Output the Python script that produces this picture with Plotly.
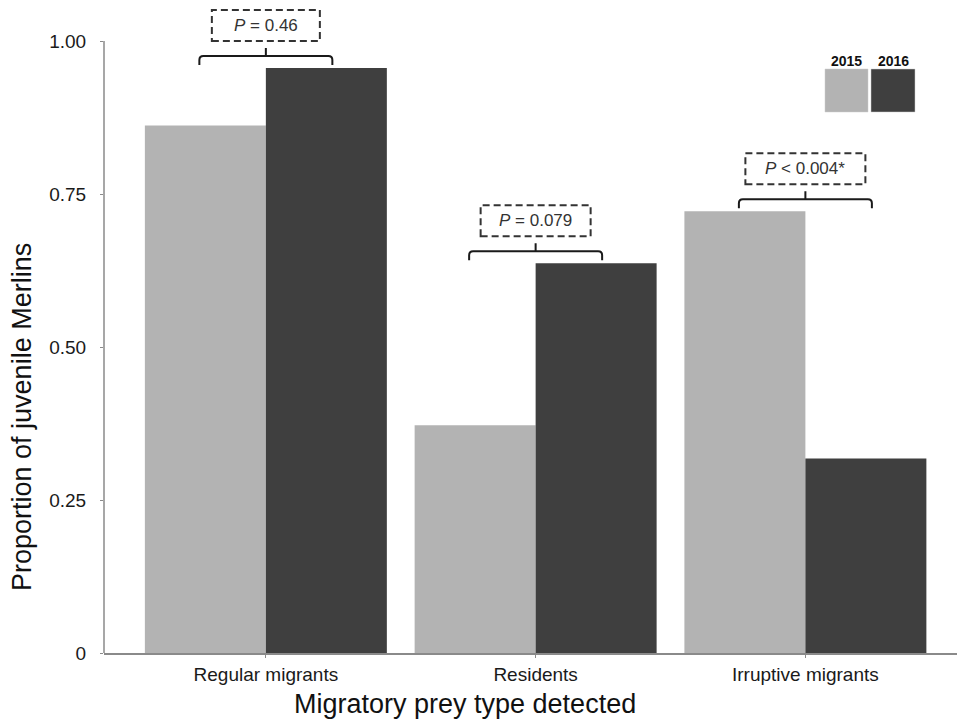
import plotly.graph_objects as go

# Proportion of juvenile Merlins by migratory prey type detected
categories = ["Regular migrants", "Residents", "Irruptive migrants"]
years = ["2015", "2016"]
prop_2015 = [0.862, 0.372, 0.722]
prop_2016 = [0.956, 0.637, 0.318]
p_labels = ["<i>P</i> = 0.46", "<i>P</i> = 0.079", "<i>P</i> < 0.004*"]
y_tickvals = [0, 0.25, 0.5, 0.75, 1.0]
y_ticktext = ["0", "0.25", "0.50", "0.75", "1.00"]

colors = {"2015": "#b3b3b3", "2016": "#3f3f3f"}
FONT = "Liberation Sans, Arial, Helvetica, sans-serif"

W, H = 957, 725
ML, MR, MT, MB = 104, 0, 0, 72
plot_w = W - ML - MR
plot_h = H - MT - MB
Y_TOP = 1.067
X_RANGE = [-0.6, 2.562]
x_per_px = (X_RANGE[1] - X_RANGE[0]) / plot_w
y_per_px = Y_TOP / plot_h


def px_to_paper(px, py):
    return (px - ML) / plot_w, (H - MB - py) / plot_h


xs = list(range(len(categories)))

fig = go.Figure()
fig.add_trace(go.Bar(x=xs, y=prop_2015, name="2015",
                     marker=dict(color=colors["2015"], line=dict(width=0))))
fig.add_trace(go.Bar(x=xs, y=prop_2016, name="2016",
                     marker=dict(color=colors["2016"], line=dict(width=0))))

shapes = []
annotations = []

# y axis line running only from 0 to 1
shapes.append(dict(type="line", xref="paper", yref="y", x0=0, x1=0, y0=0, y1=1,
                   line=dict(color="#8a8a8a", width=1.5)))

# brackets with dashed P-value boxes above each pair
box_half_px = [54, 55, 60]
half_br = 66.5 * x_per_px
for i, (a, b) in enumerate(zip(prop_2015, prop_2016)):
    top = max(a, b)
    yb = top + 12 * y_per_px
    ye = top + 3 * y_per_px
    tip = yb + 8 * y_per_px
    xl, xr = i - half_br, i + half_br
    rx, ry = 4 * x_per_px, 4 * y_per_px
    path = (f"M {xl},{ye} L {xl},{yb - ry} Q {xl},{yb} {xl + rx},{yb} "
            f"L {xr - rx},{yb} Q {xr},{yb} {xr},{yb - ry} L {xr},{ye} "
            f"M {i},{yb} L {i},{tip}")
    shapes.append(dict(type="path", xref="x", yref="y", path=path,
                       line=dict(color="#1a1a1a", width=2)))
    b0 = yb + 15 * y_per_px
    b1 = yb + 46 * y_per_px
    hw = box_half_px[i] * x_per_px
    shapes.append(dict(type="rect", xref="x", yref="y", x0=i - hw, x1=i + hw,
                       y0=b0, y1=b1,
                       line=dict(color="#333333", width=2, dash="7px,4px")))
    annotations.append(dict(x=i, y=(b0 + b1) / 2, xref="x", yref="y",
                            text=p_labels[i], showarrow=False,
                            font=dict(family=FONT, size=17, color="#333333"),
                            xanchor="center", yanchor="middle"))

# year key in the upper right corner
key_boxes = {"2015": (825, 868), "2016": (871, 915)}
for yr in years:
    x0p, x1p = key_boxes[yr]
    px0, py0 = px_to_paper(x0p, 112)
    px1, py1 = px_to_paper(x1p, 69)
    shapes.append(dict(type="rect", xref="paper", yref="paper",
                       x0=px0, x1=px1, y0=py0, y1=py1,
                       fillcolor=colors[yr], line=dict(color="#cfcfcf", width=0.5)))
    lx, ly = px_to_paper((x0p + x1p) / 2, 61)
    annotations.append(dict(x=lx, y=ly, xref="paper", yref="paper", text=f"<b>{yr}</b>",
                            showarrow=False, xanchor="center", yanchor="middle",
                            font=dict(family=FONT, size=14, color="#111111")))

# axis titles
tx, ty = px_to_paper(465, 704)
annotations.append(dict(x=tx, y=ty, xref="paper", yref="paper",
                        text="Migratory prey type detected", showarrow=False,
                        xanchor="center", yanchor="middle",
                        font=dict(family=FONT, size=27, color="#111111")))
tx, ty = px_to_paper(22, 417)
annotations.append(dict(x=tx, y=ty, xref="paper", yref="paper",
                        text="Proportion of juvenile Merlins", showarrow=False,
                        textangle=-90, xanchor="center", yanchor="middle",
                        font=dict(family=FONT, size=27, color="#111111")))

fig.update_layout(
    width=W, height=H,
    margin=dict(l=ML, r=MR, t=MT, b=MB, pad=0),
    paper_bgcolor="white", plot_bgcolor="white",
    barmode="group", bargap=0.103, bargroupgap=0,
    showlegend=False,
    font=dict(family=FONT, size=19, color="#1a1a1a"),
    shapes=shapes, annotations=annotations,
    xaxis=dict(range=X_RANGE, tickmode="array", tickvals=xs, ticktext=categories,
               showline=True, linecolor="#8a8a8a", linewidth=1.5,
               ticks="outside", ticklen=3, tickcolor="#8a8a8a",
               showgrid=False, zeroline=False,
               tickfont=dict(family=FONT, size=19, color="#1a1a1a")),
    yaxis=dict(range=[0, Y_TOP], tickmode="array", tickvals=y_tickvals,
               ticktext=y_ticktext, showline=False, showgrid=False, zeroline=False,
               ticks="outside", ticklen=3, tickcolor="#8a8a8a",
               ticklabelstandoff=10,
               tickfont=dict(family=FONT, size=19, color="#1a1a1a")),
)

fig.write_html("out.html")
